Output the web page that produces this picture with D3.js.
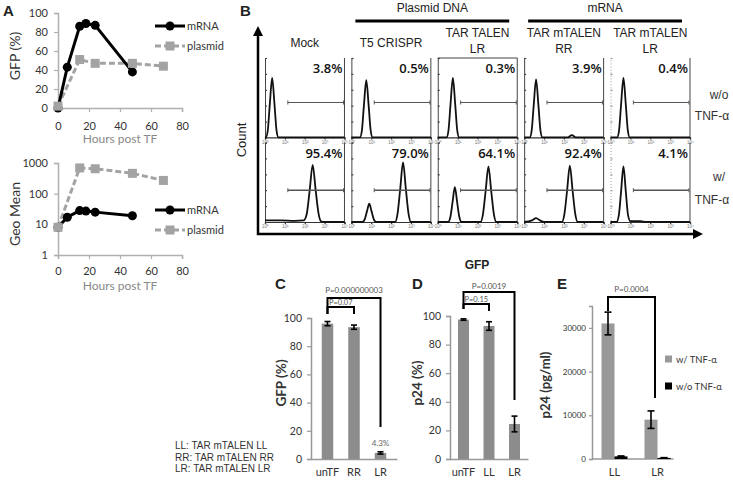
<!DOCTYPE html>
<html><head><meta charset="utf-8">
<script src="https://cdn.jsdelivr.net/npm/d3@7"></script>
<style>
body{margin:0;background:#fff}
svg{display:block}
text{font-family:Lato,"Open Sans",sans-serif}
</style></head>
<body><svg id="c" width="733" height="480"></svg>
<script>
// ---------------- DATA ----------------
// Panel A (time course)
const mrnaHours = [0, 6, 14, 18, 24, 48];
const mrnaGFP = [0, 43, 86, 89, 87, 38];
const mrnaGeo = [8, 17, 28, 27, 25, 19];
const plasmidHours = [0, 14, 24, 48, 68];
const plasmidGFP = [2, 51, 47, 47, 44];
const plasmidGeo = [8, 690, 650, 460, 270];
const aXTicks = [0, 20, 40, 60, 80];
const aYTicksTop = [0, 20, 40, 60, 80, 100];
const aYTicksBot = [1, 10, 100, 1000];
const seriesNames = ["mRNA", "plasmid"];

// Panel B (flow histograms), x = log10(GFP), y = % of max count
const flowSamples = ["Mock", "T5 CRISPR", "TAR TALEN LR", "TAR mTALEN RR", "TAR mTALEN LR"];
const flowHead1 = ["Mock", "T5 CRISPR", "TAR TALEN", "TAR mTALEN", "TAR mTALEN"];
const flowHead2 = ["", "", "LR", "RR", "LR"];
const flowConditions = ["w/o", "w/"];
const pctWithout = ["3.8%", "0.5%", "0.3%", "3.9%", "0.4%"];
const pctWith = ["95.4%", "79.0%", "64.1%", "92.4%", "4.1%"];
const flowTicks = [0, 1, 2, 3, 4];
const gateRange = [1.15, 3.95];
const gateLevel = [44, 40];
const histWithout = [
  [[0,0],[0.04,0],[0.14,9],[0.24,41],[0.36,75],[0.48,41],[0.58,9],[0.68,0],[4,0]],
  [[0,0],[0.43,0],[0.53,9],[0.63,40],[0.75,72],[0.87,40],[0.97,9],[1.07,0],[4,0]],
  [[0,0],[0.44,0],[0.54,9],[0.64,41],[0.76,75],[0.88,41],[0.98,9],[1.08,0],[4,0]],
  [[0,0],[0.28,0],[0.38,9],[0.48,40],[0.6,73],[0.72,40],[0.82,9],[0.92,0],[2.2,0],[2.4,3],[2.6,0],[4,0]],
  [[0,0],[0.33,0],[0.43,9],[0.53,41],[0.65,75],[0.77,41],[0.87,9],[0.97,0],[4,0]]
];
const histWith = [
  [[0,2],[0.8,2],[1.5,1.5],[1.95,2],[2.1,10],[2.25,40],[2.4,72],[2.55,40],[2.7,10],[2.82,1],[2.95,0],[4,0]],
  [[0,0],[0.55,0],[0.68,4],[0.79,14],[0.9,23],[1.01,14],[1.12,4],[1.25,0],[2.2,0],[2.32,10],[2.46,42],[2.6,75],[2.74,42],[2.88,10],[3.0,0],[4,0]],
  [[0,0],[0.52,0],[0.64,7],[0.75,26],[0.86,44],[0.97,26],[1.08,7],[1.2,0],[2.15,0],[2.27,9],[2.41,39],[2.55,70],[2.69,39],[2.83,9],[2.95,0],[4,0]],
  [[0,0],[0.4,2],[0.6,5],[0.8,2],[1.0,0],[1.9,0],[2.02,9],[2.16,39],[2.3,71],[2.44,39],[2.58,9],[2.7,0],[4,0]],
  [[0,0],[0.3,0],[0.42,9],[0.53,38],[0.65,70],[0.77,38],[0.88,9],[1.0,1],[1.5,1],[1.8,0],[4,0]]
];

// Panel C
const cCats = ["unTF", "RR", "LR"];
const cGFP = [96, 93.5, 4.3];
const cErr = [1.5, 1.5, 0.8];
const cTicks = [0, 20, 40, 60, 80, 100];
const cPvals = ["P=0.000000003", "P=0.07"];
// Panel D
const dCats = ["unTF", "LL", "LR"];
const dP24 = [97.5, 93, 24.5];
const dErr = [0.5, 3, 5.5];
const dTicks = [0, 20, 40, 60, 80, 100];
const dPvals = ["P=0.0019", "P=0.15"];
// Panel E
const eCats = ["LL", "LR"];
const eSeries = ["w/ TNF-α", "w/o TNF-α"];
const eWith = [31000, 9000];
const eWithErr = [2600, 2000];
const eWithout = [600, 250];
const eWithoutErr = [100, 60];
const eTicks = [0, 10000, 20000, 30000];
const ePval = "P=0.0004";
const abbrevLegend = ["LL: TAR mTALEN LL", "RR: TAR mTALEN RR", "LR: TAR mTALEN LR"];

// ---------------- DRAW ----------------
const svg = d3.select("#c");
svg.append("rect").attr("width", 733).attr("height", 480).attr("fill", "#fff");

function styleAxis(g, lineColor, fs, txtColor, family) {
  g.select(".domain").attr("stroke", lineColor).attr("stroke-width", 1.5);
  g.selectAll(".tick line").attr("stroke", lineColor).attr("stroke-width", 1.2);
  g.selectAll(".tick text").attr("fill", txtColor).style("font-size", fs + "px")
    .style("font-family", family || "Lato, sans-serif");
}
function label(x, y, t, o) {
  o = o || {};
  const e = svg.append("text").attr("x", x).attr("y", y).text(t)
    .attr("text-anchor", o.anchor || "start")
    .attr("fill", o.fill || "#222")
    .style("font-size", (o.size || 11) + "px")
    .style("font-weight", o.weight || "normal")
    .style("font-family", o.family || "Lato, sans-serif");
  if (o.rotate) e.attr("transform", `rotate(-90,${x},${y})`);
  return e;
}

// panel letters
label(3, 16, "A", {size: 15, weight: "bold", family: "Liberation Sans, Arial"});
label(240, 16, "B", {size: 15, weight: "bold", family: "Liberation Sans, Arial"});
label(275, 289, "C", {size: 15, weight: "bold", family: "Liberation Sans, Arial"});
label(412, 289, "D", {size: 15, weight: "bold", family: "Liberation Sans, Arial"});
label(557, 289, "E", {size: 15, weight: "bold", family: "Liberation Sans, Arial"});

// ===== Panel A =====
const ax = d3.scaleLinear().domain([0, 80]).range([58, 182]);
const ayTop = d3.scaleLinear().domain([0, 100]).range([108, 13]);
const ayBot = d3.scaleLog().domain([1, 1000]).range([255, 163]);
const grayAxis = "#b0b0b0";
const plasmidColor = "#a3a3a3";

function drawA(yScale, mVals, pVals, yTicks, xAxisY, xPad, legendY, ylab, ylabY) {
  const gy = svg.append("g").attr("transform", "translate(58,0)")
    .call(d3.axisLeft(yScale).tickValues(yTicks).tickSize(4).tickPadding(6).tickFormat(d3.format("d")));
  styleAxis(gy, grayAxis, 11, "#333");
  const gx = svg.append("g").attr("transform", `translate(0,${xAxisY})`)
    .call(d3.axisBottom(ax).tickValues(aXTicks).tickSize(4).tickPadding(xPad));
  styleAxis(gx, grayAxis, 11, "#333");
  label(120, xAxisY + 35, "Hours post TF", {anchor: "middle", size: 12, fill: "#888"});
  label(20, ylabY, ylab, {anchor: "middle", size: 14, fill: "#333", rotate: true});

  const pl = plasmidHours.map((h, i) => [h, pVals[i]]);
  const ml = mrnaHours.map((h, i) => [h, mVals[i]]);
  const line = d3.line().x(d => ax(d[0])).y(d => yScale(d[1]));
  svg.append("path").attr("d", line(pl)).attr("fill", "none").attr("stroke", plasmidColor)
    .attr("stroke-width", 3).attr("stroke-dasharray", "6,3");
  svg.append("path").attr("d", line(ml)).attr("fill", "none").attr("stroke", "#000").attr("stroke-width", 3);
  svg.append("g").selectAll("circle").data(ml).join("circle")
    .attr("cx", d => ax(d[0])).attr("cy", d => yScale(d[1])).attr("r", 4.5).attr("fill", "#000");
  svg.append("g").selectAll("rect").data(pl).join("rect")
    .attr("x", d => ax(d[0]) - 4.5).attr("y", d => yScale(d[1]) - 4.5)
    .attr("width", 9).attr("height", 9).attr("fill", plasmidColor);

  // legend
  seriesNames.forEach((s, i) => {
    const ly = legendY + i * 20;
    const c = i === 0 ? "#000" : plasmidColor;
    svg.append("line").attr("x1", 155).attr("x2", 185).attr("y1", ly).attr("y2", ly)
      .attr("stroke", c).attr("stroke-width", 3).attr("stroke-dasharray", i === 0 ? null : "6,3");
    if (i === 0) svg.append("circle").attr("cx", 170).attr("cy", ly).attr("r", 4.5).attr("fill", c);
    else svg.append("rect").attr("x", 165.5).attr("y", ly - 4.5).attr("width", 9).attr("height", 9).attr("fill", c);
    label(187, ly + 4, s, {size: 11, fill: "#333"});
  });
}
drawA(ayTop, mrnaGFP, plasmidGFP, aYTicksTop, 108, 10, 26, "GFP (%)", 56);
drawA(ayBot, mrnaGeo, plasmidGeo, aYTicksBot, 255, 8, 210, "Geo Mean", 214);

// ===== Panel B =====
const bFont = "Liberation Sans, Arial, sans-serif";
const colBand = d3.scaleBand().domain(flowSamples).range([265, 690]).paddingInner(0.08);
const rowBand = d3.scaleBand().domain(flowConditions).range([58, 222]).paddingInner(0.06);
const bw = colBand.bandwidth(), bh = rowBand.bandwidth();
const fx = d3.scaleLinear().domain([0, 4]).range([0, bw]);
const fy = d3.scaleLinear().domain([0, 100]).range([bh, 0]);
const histLine = d3.line().x(d => fx(d[0])).y(d => fy(d[1])).curve(d3.curveMonotoneX);

// group headers
[["Plasmid DNA", 1, 2], ["mRNA", 3, 4]].forEach(([t, a, b]) => {
  const x1 = colBand(flowSamples[a]) + 4, x2 = colBand(flowSamples[b]) + bw - 8;
  label((x1 + x2) / 2, 12, t, {anchor: "middle", size: 12, family: bFont});
  svg.append("line").attr("x1", x1).attr("x2", x2).attr("y1", 21).attr("y2", 21)
    .attr("stroke", "#000").attr("stroke-width", 3);
});
flowSamples.forEach((s, i) => {
  const cx = colBand(s) + bw / 2;
  if (flowHead2[i]) {
    label(cx, 37, flowHead1[i], {anchor: "middle", size: 12, family: bFont});
    label(cx, 53, flowHead2[i], {anchor: "middle", size: 12, family: bFont});
  } else {
    label(cx, 47, flowHead1[i], {anchor: "middle", size: 12, family: bFont});
  }
});

flowConditions.forEach((cond, r) => {
  const hists = r === 0 ? histWithout : histWith;
  const pcts = r === 0 ? pctWithout : pctWith;
  flowSamples.forEach((s, i) => {
    const g = svg.append("g").attr("transform", `translate(${colBand(s)},${rowBand(cond)})`);
    g.append("line").attr("x1", bw).attr("x2", bw).attr("y1", 0).attr("y2", bh).attr("stroke", "#444").attr("stroke-width", 1);
    if (r === 0 && i === 2) g.append("line").attr("x1", 0).attr("x2", bw).attr("y1", 0).attr("y2", 0).attr("stroke", "#444");
    const gxA = g.append("g").attr("transform", `translate(0,${bh})`)
      .call(d3.axisBottom(fx).tickValues(flowTicks).tickSize(2).tickPadding(1).tickFormat(d => "10" + "⁰¹²³⁴"[d]));
    styleAxis(gxA, "#333", 4.5, "#777", bFont);
    gxA.select(".domain").attr("stroke-width", 1.2);
    const gyA = g.append("g").call(d3.axisLeft(fy).ticks(5).tickSize(-2).tickFormat(""));
    styleAxis(gyA, i === 4 ? "#999" : "#444", 4, "#777", bFont);
    gyA.select(".domain").attr("stroke-width", 1).attr("stroke-dasharray", i === 4 ? "1,2" : null);
    g.append("path").attr("d", histLine(hists[i])).attr("fill", "none").attr("stroke", "#111").attr("stroke-width", 1.8);
    const gyv = fy(gateLevel[r]);
    g.append("line").attr("x1", fx(gateRange[0])).attr("x2", fx(gateRange[1])).attr("y1", gyv).attr("y2", gyv)
      .attr("stroke", "#555").attr("stroke-width", r === 0 ? 1 : 1.6);
    gateRange.forEach(v => g.append("line").attr("x1", fx(v)).attr("x2", fx(v)).attr("y1", gyv - 2).attr("y2", gyv + 2)
      .attr("stroke", "#555").attr("stroke-width", 1));
    g.append("text").attr("x", bw - 2).attr("y", 15).attr("text-anchor", "end").text(pcts[i])
      .attr("fill", "#111").style("font-size", "13px").style("font-weight", "600").style("font-family", "Open Sans, sans-serif");
  });
});
svg.append("defs").append("marker").attr("id", "arr").attr("viewBox", "0 0 10 10").attr("refX", 5).attr("refY", 5)
  .attr("markerWidth", 4).attr("markerHeight", 4).attr("orient", "auto-start-reverse")
  .append("path").attr("d", "M0,0L10,5L0,10z").attr("fill", "#000");
svg.append("path").attr("d", "M258,31 V234 H698").attr("fill", "none").attr("stroke", "#000")
  .attr("stroke-width", 2.5).attr("marker-start", "url(#arr)").attr("marker-end", "url(#arr)");
label(246, 140, "Count", {anchor: "middle", size: 13, family: bFont, rotate: true});
label(477, 269, "GFP", {anchor: "middle", size: 12, weight: "bold", family: bFont});
label(719, 99, "w/o", {anchor: "middle", size: 12, fill: "#333", family: bFont});
label(712, 120, "TNF-α", {anchor: "middle", size: 12, fill: "#333", family: bFont});
label(719, 181, "w/", {anchor: "middle", size: 12, fill: "#333", family: bFont});
label(712, 204, "TNF-α", {anchor: "middle", size: 12, fill: "#333", family: bFont});

// ===== Bar charts helpers =====
const barColor = "#8c8c8c";
function errBar(x, y0, y1, w) {
  svg.append("line").attr("x1", x).attr("x2", x).attr("y1", y0).attr("y2", y1).attr("stroke", "#000").attr("stroke-width", 1.6);
  [y0, y1].forEach(y => svg.append("line").attr("x1", x - w / 2).attr("x2", x + w / 2).attr("y1", y).attr("y2", y)
    .attr("stroke", "#000").attr("stroke-width", 1.6));
}
function bracket(x1, x2, top, leg1, leg2) {
  svg.append("path").attr("d", `M${x1},${leg1} V${top} H${x2} V${leg2}`).attr("fill", "none")
    .attr("stroke", "#000").attr("stroke-width", 2);
}
function simpleBars(cats, vals, errs, ticks, axisX, xRange, pi, po, y, ylab, ylabX) {
  const x = d3.scaleBand().domain(cats).range(xRange).paddingInner(pi).paddingOuter(po);
  const gy = svg.append("g").attr("transform", `translate(${axisX},0)`)
    .call(d3.axisLeft(y).tickValues(ticks).tickSize(4).tickPadding(5));
  styleAxis(gy, "#999", 10.5, "#333");
  const gx = svg.append("g").attr("transform", `translate(0,${y(0)})`)
    .call(d3.axisBottom(x).tickSize(0).tickPadding(9));
  styleAxis(gx, "#999", 11, "#333");
  svg.append("g").selectAll("rect").data(cats).join("rect")
    .attr("x", d => x(d)).attr("width", x.bandwidth())
    .attr("y", (d, i) => y(vals[i])).attr("height", (d, i) => y(0) - y(vals[i])).attr("fill", barColor);
  cats.forEach((c, i) => errBar(x(c) + x.bandwidth() / 2, y(vals[i] + errs[i]), y(vals[i] - errs[i]), 6));
  label(ylabX, 383, ylab, {anchor: "middle", size: 13.5, weight: "bold", fill: "#333", rotate: true});
  return x;
}

// ===== Panel C =====
const cy = d3.scaleLinear().domain([0, 100]).range([459, 318]);
const cx = simpleBars(cCats, cGFP, cErr, cTicks, 311, [311, 397], 0.566, 0.405, cy, "GFP (%)", 286);
const cc = c => cx(c) + cx.bandwidth() / 2;
bracket(cc("unTF"), cc("LR"), 298, 314, 427);
bracket(cc("unTF"), cc("RR"), 307, 314, 314);
label((cc("unTF") + cc("LR")) / 2, 293, cPvals[0], {anchor: "middle", size: 8, fill: "#555"});
label((cc("unTF") + cc("RR")) / 2, 305, cPvals[1], {anchor: "middle", size: 7.5, fill: "#555"});
label(cc("LR"), 446, cGFP[2] + "%", {anchor: "middle", size: 8, fill: "#666"});

// ===== Panel D =====
const dy = d3.scaleLinear().domain([0, 100]).range([459, 316]);
const dx = simpleBars(dCats, dP24, dErr, dTicks, 450, [450, 528], 0.569, 0.314, dy, "p24 (%)", 422);
const dc = c => dx(c) + dx.bandwidth() / 2;
bracket(dc("unTF"), dc("LR"), 292, 309, 400);
bracket(dc("unTF"), dc("LL"), 304, 309, 311);
label((dc("unTF") + dc("LR")) / 2, 289, dPvals[0], {anchor: "middle", size: 8, fill: "#555"});
label((dc("unTF") + dc("LL")) / 2, 302, dPvals[1], {anchor: "middle", size: 7.5, fill: "#555"});

// ===== Panel E =====
const ey = d3.scaleLinear().domain([0, 35000]).range([459, 306]);
const ex0 = d3.scaleBand().domain(eCats).range([592, 680]).paddingInner(0.395).paddingOuter(0.221);
const ex1 = d3.scaleBand().domain(eSeries).range([0, ex0.bandwidth()]);
const gEy = svg.append("g").attr("transform", "translate(592,0)")
  .call(d3.axisLeft(ey).tickValues(eTicks).tickSize(3).tickPadding(3).tickFormat(d3.format("d")));
styleAxis(gEy, "#999", 8, "#333");
const gEx = svg.append("g").attr("transform", `translate(0,${ey(0)})`)
  .call(d3.axisBottom(ex0).tickSize(0).tickPadding(9));
styleAxis(gEx, "#999", 11, "#333");
gEx.select(".domain").attr("d", `M592,0H${ex0("LR") + ex0.bandwidth() + 3}`);
const eColors = ["#999999", "#000000"];
eCats.forEach((c, i) => {
  const vals = [eWith[i], eWithout[i]], errs = [eWithErr[i], eWithoutErr[i]];
  eSeries.forEach((s, j) => {
    svg.append("rect").attr("x", ex0(c) + ex1(s)).attr("width", ex1.bandwidth())
      .attr("y", ey(vals[j])).attr("height", ey(0) - ey(vals[j])).attr("fill", eColors[j]);
    errBar(ex0(c) + ex1(s) + ex1.bandwidth() / 2, ey(vals[j] + errs[j]), ey(vals[j] - errs[j]), 7);
  });
});
const ewc = c => ex0(c) + ex1(eSeries[0]) + ex1.bandwidth() / 2;
bracket(ewc("LL"), ewc("LR") + 4, 297, 311, 398);
label((ewc("LL") + ewc("LR")) / 2 + 2, 292, ePval, {anchor: "middle", size: 8, fill: "#555"});
label(550, 385, "p24 (pg/ml)", {anchor: "middle", size: 13, weight: "bold", fill: "#333", rotate: true});
eSeries.forEach((s, j) => {
  const ly = 359 + j * 27;
  svg.append("rect").attr("x", 665).attr("y", ly - 3.5).attr("width", 7).attr("height", 7).attr("fill", eColors[j]);
  label(676, ly + 3.5, s, {size: 9.5, fill: "#333"});
});

abbrevLegend.forEach((t, i) => label(175, 449 + i * 11.5, t, {size: 10, fill: "#333", family: bFont}));
</script></body></html>
